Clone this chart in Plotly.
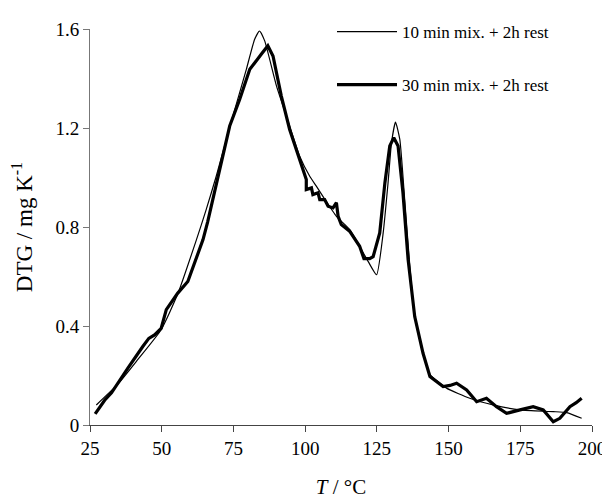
import plotly.graph_objects as go

# 10 min mix. + 2h rest (thin line)
T_10 = [27.2, 34.7, 41.7, 49.8, 55.6, 62.0, 65.5, 69.0, 74.8, 79.5, 82.4, 84.1, 85.9,
        90.0, 94.6, 98.1, 101.6, 103.9, 106.2, 110.9, 115.5, 119.0, 122.0, 124.9,
        127.2, 128.9, 130.1, 131.5, 133.0, 134.7, 136.5, 138.2, 141.1, 143.5, 149.3,
        157.4, 165.5, 174.9, 186.5, 191.2, 196.4]
dtg_10 = [0.081, 0.165, 0.265, 0.385, 0.53, 0.745, 0.87, 1.005, 1.248, 1.437, 1.559, 1.592, 1.552,
          1.37, 1.208, 1.086, 1.005, 0.965, 0.924, 0.843, 0.79, 0.722, 0.66, 0.607,
          0.776, 0.978, 1.14, 1.224, 1.154, 0.911, 0.641, 0.438, 0.29, 0.205, 0.149,
          0.108, 0.081, 0.061, 0.054, 0.05, 0.027]

# 30 min mix. + 2h rest (thick line)
T_30 = [26.8, 30.1, 32.5, 34.7, 38.2, 43.4, 45.5, 47.5, 49.8, 51.6, 55.6, 59.1, 64.4, 66.0,
        70.2, 73.7, 77.2, 80.7, 84.7, 87.0, 88.8, 91.7, 94.6, 98.1, 100.4, 100.4, 102.2,
        102.7, 104.5, 105.1, 106.8, 108.0, 109.7, 110.9, 111.5, 112.6, 115.5, 119.0,
        120.5, 122.5, 123.7, 126.0, 127.8, 129.5, 130.9, 132.4, 134.1, 135.9, 138.2,
        141.1, 143.5, 148.1, 150.5, 152.8, 156.3, 159.8, 163.2, 166.7, 170.2, 174.9,
        179.5, 183.0, 186.5, 188.8, 192.3, 194.5, 196.4]
dtg_30 = [0.045, 0.10, 0.13, 0.169, 0.23, 0.317, 0.35, 0.364, 0.39, 0.466, 0.533, 0.58, 0.749, 0.82,
          1.032, 1.208, 1.316, 1.437, 1.498, 1.532, 1.491, 1.329, 1.194, 1.073, 0.992, 0.951, 0.958,
          0.931, 0.938, 0.911, 0.911, 0.884, 0.877, 0.898, 0.843, 0.81, 0.783, 0.722,
          0.672, 0.672, 0.68, 0.776, 0.978, 1.127, 1.161, 1.127, 0.938, 0.668, 0.438,
          0.29, 0.196, 0.155, 0.16, 0.169, 0.142, 0.094, 0.108, 0.074, 0.047, 0.061,
          0.074, 0.061, 0.013, 0.027, 0.074, 0.09, 0.108]

x_ticks = [25, 50, 75, 100, 125, 150, 175, 200]
y_ticks = [0, 0.4, 0.8, 1.2, 1.6]
y_ticktext = ["0", "0.4", "0.8", "1.2", "1.6"]

FONT = "Liberation Serif, Times New Roman, serif"

fig = go.Figure()
fig.add_trace(go.Scatter(x=T_10, y=dtg_10, mode="lines", name="10 min mix. + 2h rest",
                         line=dict(color="black", width=1.2, shape="spline", smoothing=0.5),
                         legendgroup="a"))
fig.add_trace(go.Scatter(x=T_30, y=dtg_30, mode="lines", name="30 min mix. + 2h rest",
                         line=dict(color="black", width=3.2),
                         legendgroup="b"))

# page body has an 8px default margin, so the figure is sized/offset to compensate
fig.update_layout(
    width=602, height=495,
    margin=dict(l=82, r=18, t=21, b=78, autoexpand=False),
    paper_bgcolor="white", plot_bgcolor="white",
    font=dict(family=FONT, size=19, color="black"),
    showlegend=True,
    legend=dict(xref="container", yref="container", x=324/602, y=1-6/495,
                xanchor="left", yanchor="top", bgcolor="rgba(0,0,0,0)",
                font=dict(family=FONT, size=17, color="black"),
                tracegroupgap=28, itemwidth=60, traceorder="grouped"),
    xaxis=dict(range=[25, 200], tickvals=x_ticks, ticks="outside", ticklen=6,
               tickcolor="#444", showline=True, linecolor="#444", linewidth=1,
               showgrid=False, zeroline=False,
               title=dict(text="<i>T</i> / °C", font=dict(size=21), standoff=21)),
    yaxis=dict(range=[0, 1.6], tickvals=y_ticks, ticktext=y_ticktext, ticks="outside",
               ticklen=6, tickcolor="#777", showline=True, linecolor="#777", linewidth=1,
               showgrid=False, zeroline=False,
               title=dict(text="DTG / mg K<sup>-1</sup>", font=dict(size=23), standoff=16)),
)

fig.write_html("out.html")
